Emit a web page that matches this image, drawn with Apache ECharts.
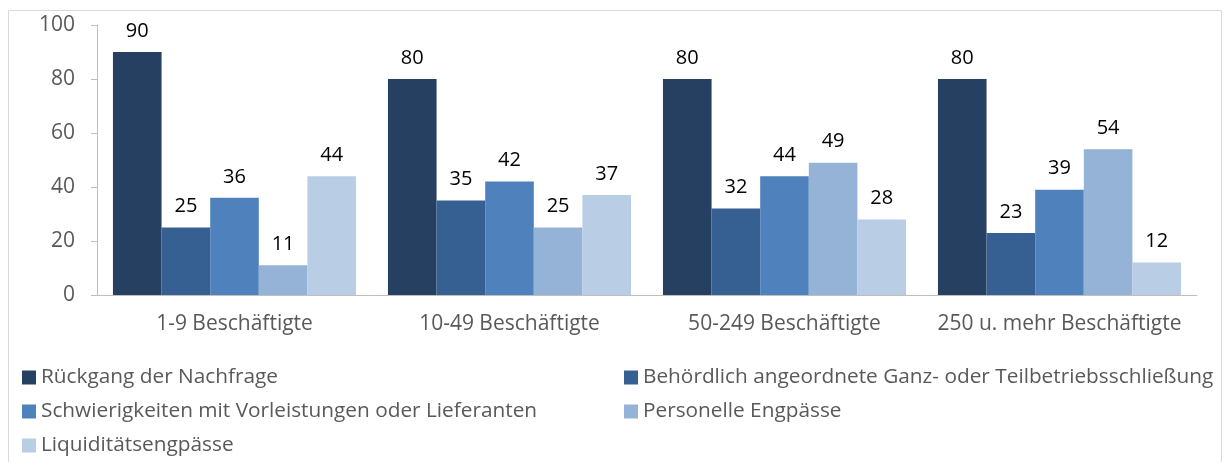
<!DOCTYPE html>
<html>
<head>
<meta charset="utf-8">
<script src="https://cdn.jsdelivr.net/npm/echarts@6/dist/echarts.min.js"></script>
<style>
  html, body { margin: 0; padding: 0; background: #fff; }
  #chart { width: 1227px; height: 462px; }
</style>
</head>
<body>
<div id="chart"></div>
<script>
const categories = ['1-9 Beschäftigte', '10-49 Beschäftigte', '50-249 Beschäftigte', '250 u. mehr Beschäftigte'];
const seriesNames = [
  'Rückgang der Nachfrage',
  'Behördlich angeordnete Ganz- oder Teilbetriebsschließung',
  'Schwierigkeiten mit Vorleistungen oder Lieferanten',
  'Personelle Engpässe',
  'Liquiditätsengpässe',
];
const nachfrage = [90, 80, 80, 80];
const schliessung = [25, 35, 32, 23];
const lieferanten = [36, 42, 44, 39];
const personal = [11, 25, 49, 54];
const liquiditaet = [44, 37, 28, 12];
const colors = ['#264061', '#366092', '#4F81BD', '#95B3D7', '#B9CDE5'];

const FONT = '"Open Sans", "Noto Sans", sans-serif';
const values = [nachfrage, schliessung, lieferanten, personal, liquiditaet];

const chart = echarts.init(document.getElementById('chart'));
const legendText = { color: '#595959', fontSize: 20.8, fontFamily: FONT };

chart.setOption({
  animation: false,
  color: colors,
  textStyle: { fontFamily: FONT },
  graphic: [
    {
      type: 'rect',
      shape: { x: 8.5, y: 10.5, width: 1213, height: 460 },
      style: { fill: 'none', stroke: '#D9D9D9', lineWidth: 1 },
      silent: true,
    },
  ],
  grid: { left: 97, right: 30, top: 25, bottom: 167 },
  legend: [
    {
      left: 22, top: 367, padding: 0, orient: 'vertical', itemGap: 13,
      itemWidth: 14, itemHeight: 14, itemGap: 13, icon: 'rect',
      data: [seriesNames[0], seriesNames[2], seriesNames[4]],
      textStyle: legendText,
    },
    {
      left: 624, top: 367, padding: 0, orient: 'vertical', itemGap: 13,
      itemWidth: 14, itemHeight: 14, icon: 'rect',
      data: [seriesNames[1], seriesNames[3]],
      textStyle: legendText,
    },
  ],
  xAxis: {
    type: 'category',
    data: categories,
    axisLine: { lineStyle: { color: '#BFBFBF' } },
    axisTick: { length: 8, lineStyle: { color: '#BFBFBF' } },
    axisLabel: { color: '#595959', fontSize: 21, margin: 19, interval: 0, fontFamily: FONT },
  },
  yAxis: {
    type: 'value',
    min: 0,
    max: 100,
    interval: 20,
    axisLine: { show: true, lineStyle: { color: '#BFBFBF' } },
    axisTick: { show: true, length: 6, lineStyle: { color: '#BFBFBF' } },
    axisLabel: { color: '#595959', fontSize: 21, margin: 22, fontFamily: FONT },
    splitLine: { show: false },
  },
  series: values.map((data, i) => ({
    name: seriesNames[i],
    type: 'bar',
    data: data,
    barGap: '0%',
    barCategoryGap: '11.6%',
    label: {
      show: true,
      position: 'top',
      distance: 11,
      color: '#000',
      fontSize: 20,
      fontFamily: FONT,
    },
  })),
});
</script>
</body>
</html>
